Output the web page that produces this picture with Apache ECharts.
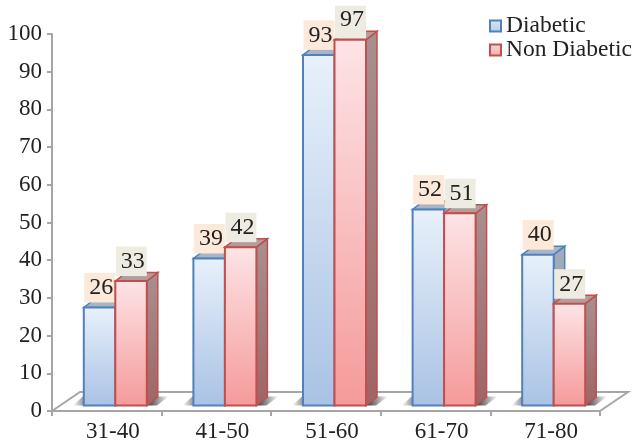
<!DOCTYPE html>
<html>
<head>
<meta charset="utf-8">
<style>html,body{margin:0;padding:0;background:#fff}#c{width:635px;height:445px}</style>
<script src="https://cdn.jsdelivr.net/npm/echarts@6/dist/echarts.min.js"></script>
</head>
<body>
<div id="c"></div>
<script>
const categories = ['31-40', '41-50', '51-60', '61-70', '71-80'];
const diabetic = [26, 39, 93, 52, 40];
const nonDiabetic = [33, 42, 97, 51, 27];
const yTicks = { min: 0, max: 100, interval: 10 };

const FONT = '"Liberation Serif", "Times New Roman", serif';
const INK = '#222222';
const G = (x, y, x2, y2, a, b) => ({ type: 'linear', x, y, x2, y2, colorStops: [{ offset: 0, color: a }, { offset: 1, color: b }] });

const styles = {
  blue: {
    front: G(0, 0, 0, 1, '#e8f1fb', '#a9c2e4'), border: '#4f81bd',
    side: G(0, 0, 0, 1, '#a3adbb', '#8494a8'), top: '#a9b4c4', labelBg: '#fde9d9'
  },
  red: {
    front: G(0, 0, 0, 1, '#fde4e6', '#f59a9a'), border: '#c0504d',
    side: G(0, 0, 0, 1, '#a89090', '#a06464'), top: '#b39c9c', labelBg: '#eeece1'
  }
};

function bar3d(which, start) {
  const st = styles[which];
  return function (params, api) {
    const i = api.value(0), v = api.value(1);
    const p = api.coord([i, v]), base = api.coord([i, 0]);
    const w = 31.5, dx = 11, dy = 8.5, lift = 5.5;
    const x0 = p[0] + 8.5 + start * w, x1 = x0 + w;
    const yT = p[1] - lift, yB = base[1] - lift;
    const ch = [];
    // floor shadow
    if (start < 0) {
      ch.push({ type: 'polygon', silent: true, shape: { points: [[x0 - 11, yB], [x0 - 1, yB - 9], [x0 + 10, yB - 9], [x0 + 10, yB]] },
        style: { fill: G(0, 0, 1, 0, 'rgba(40,40,40,0)', 'rgba(40,40,40,0.95)') } });
    } else {
      ch.push({ type: 'polygon', silent: true, shape: { points: [[x1, yB], [x1 + 9, yB - 9], [x1 + 22, yB - 9], [x1 + 10, yB]] },
        style: { fill: G(0, 0, 1, 0, 'rgba(40,40,40,0.95)', 'rgba(40,40,40,0)') } });
    }
    ch.push({ type: 'polygon', shape: { points: [[x1, yT], [x1 + dx, yT - dy], [x1 + dx, yB - dy], [x1, yB]] },
      style: { fill: st.side, stroke: st.border, lineWidth: 1.5 } });
    ch.push({ type: 'polygon', shape: { points: [[x0, yT], [x0 + dx, yT - dy], [x1 + dx, yT - dy], [x1, yT]] },
      style: { fill: st.top, stroke: st.border, lineWidth: 1.5 } });
    ch.push({ type: 'rect', shape: { x: x0, y: yT, width: w, height: yB - yT },
      style: { fill: st.front, stroke: st.border, lineWidth: 2 } });
    // value label box: the tallest bar's box is larger and reaches down over the top face
    const tallest = v > 95;
    const lb = yT - (tallest ? 1.5 : 5);
    const bh = tallest ? 32.5 : 29.5;
    ch.push({ type: 'rect', z2: 20, shape: { x: x0 + 0.5, y: lb - bh, width: 31, height: bh }, style: { fill: st.labelBg } });
    ch.push({ type: 'text', z2: 21, style: { x: x0 + 17.5, y: lb - (tallest ? 19 : 14.5), text: String(v), align: 'center', verticalAlign: 'middle',
      font: '24px ' + FONT, fill: INK } });
    return { type: 'group', children: ch };
  };
}

function floor(params, api) {
  if (params.dataIndex !== 0) return null;
  const a = api.coord([0, 0]), b = api.coord([4, 0]);
  const band = api.size([1, 0])[0];
  const xL = a[0] - band / 2, xR = b[0] + band / 2, y = a[1];
  return { type: 'polyline', silent: true, shape: { points: [[xL, y], [xL + 28, y - 19], [xR + 28, y - 19], [xR, y]] },
    style: { fill: null, stroke: '#a6a6a6', lineWidth: 2 } };
}

const chart = echarts.init(document.getElementById('c'), null, { renderer: 'canvas' });
chart.setOption({
  animation: false,
  backgroundColor: '#fff',
  legend: {
    data: ['Diabetic', 'Non Diabetic'], orient: 'vertical', left: 489, top: 14,
    itemWidth: 11, itemHeight: 11, itemGap: 0, icon: 'rect', padding: 0,
    textStyle: { fontFamily: FONT, fontSize: 23.5, lineHeight: 24, color: INK }
  },
  grid: { left: 52, right: 35, top: 34, bottom: 34, containLabel: false },
  xAxis: {
    type: 'category', data: categories, boundaryGap: true,
    axisLine: { lineStyle: { color: '#a6a6a6', width: 2 } },
    axisTick: { show: true, length: 5, lineStyle: { color: '#a6a6a6', width: 2 } },
    axisLabel: { fontFamily: FONT, fontSize: 23, color: INK, margin: 9, padding: [0, 0, 0, 12] }
  },
  yAxis: {
    type: 'value', min: yTicks.min, max: yTicks.max, interval: yTicks.interval,
    splitLine: { show: false },
    axisLine: { show: true, lineStyle: { color: '#a6a6a6', width: 2 } },
    axisTick: { show: true, length: 5, lineStyle: { color: '#a6a6a6', width: 2 } },
    axisLabel: { fontFamily: FONT, fontSize: 23, color: INK, margin: 10 }
  },
  series: [
    { type: 'custom', name: 'floor', data: categories.map((c, i) => [i, 0]), renderItem: floor, encode: { x: 0, y: 1 }, silent: true, z: 1 },
    { type: 'custom', name: 'Diabetic', data: diabetic.map((v, i) => [i, v]), renderItem: bar3d('blue', -1), encode: { x: 0, y: 1 }, z: 2,
      itemStyle: { color: G(0, 0, 0, 1, '#dce9f7', '#b5cbe8'), borderColor: '#4f81bd', borderWidth: 2 } },
    { type: 'custom', name: 'Non Diabetic', data: nonDiabetic.map((v, i) => [i, v]), renderItem: bar3d('red', 0), encode: { x: 0, y: 1 }, z: 3,
      itemStyle: { color: G(0, 0, 0, 1, '#fbdcdc', '#f5a8a8'), borderColor: '#c0504d', borderWidth: 2 } }
  ]
});
</script>
</body>
</html>
